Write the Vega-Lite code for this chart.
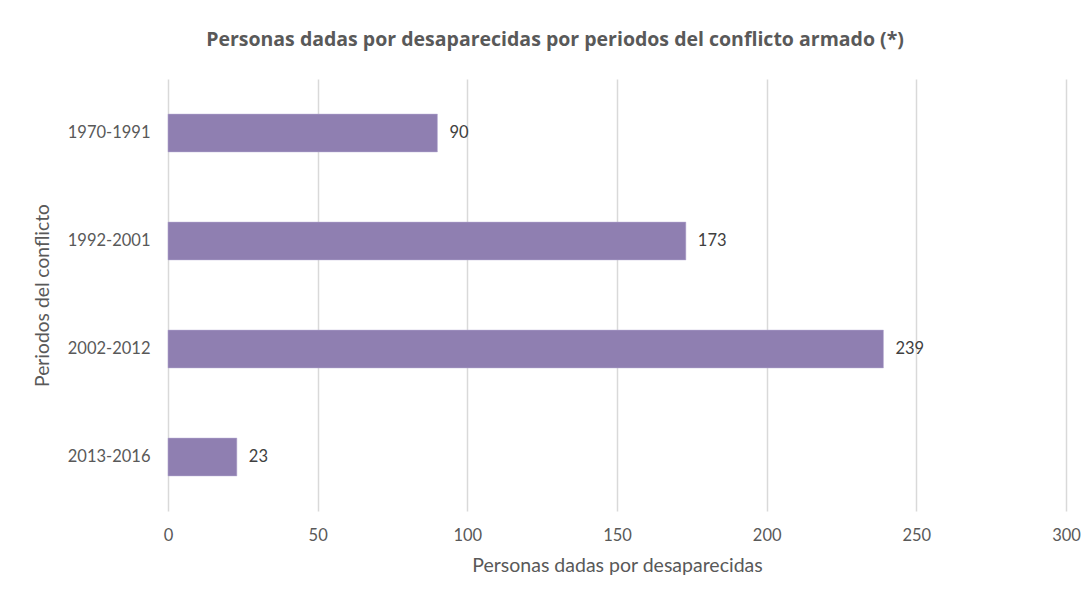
{
  "$schema": "https://vega.github.io/schema/vega-lite/v6.json",
  "autosize": "none",
  "padding": {"left": 168, "top": 79, "right": 25, "bottom": 89},
  "width": 898,
  "height": 432,
  "background": "white",
  "config": {
    "font": "Lato",
    "view": {"stroke": null}
  },
  "title": {
    "text": "Personas dadas por desaparecidas por periodos del conflicto armado (*)",
    "font": "Open Sans",
    "fontSize": 19.5,
    "fontWeight": "bold",
    "color": "#595959",
    "anchor": "middle",
    "dx": -62,
    "offset": 29
  },
  "data": {
    "values": [
      {"periodo": "1970-1991", "personas": 90},
      {"periodo": "1992-2001", "personas": 173},
      {"periodo": "2002-2012", "personas": 239},
      {"periodo": "2013-2016", "personas": 23}
    ]
  },
  "encoding": {
    "y": {
      "field": "periodo",
      "type": "nominal",
      "sort": null,
      "title": "Periodos del conflicto",
      "scale": {"paddingInner": 0.65, "paddingOuter": 0.325},
      "axis": {
        "domain": false,
        "ticks": false,
        "labelPadding": 18,
        "labelFontSize": 16.5,
        "labelColor": "#595959",
        "titleFontSize": 19.3,
        "titleFontWeight": "normal",
        "titleColor": "#595959",
        "titleX": -126,
        "titleY": 216,
        "titleBaseline": "middle"
      }
    },
    "x": {
      "field": "personas",
      "type": "quantitative",
      "title": "Personas dadas por desaparecidas",
      "scale": {"domain": [0, 300], "nice": false},
      "axis": {
        "values": [0, 50, 100, 150, 200, 250, 300],
        "domain": false,
        "ticks": false,
        "grid": true,
        "gridColor": "#d9d9d9",
        "gridWidth": 1.5,
        "labelFlush": false,
        "labelPadding": 16,
        "labelFontSize": 16.5,
        "labelColor": "#595959",
        "titleFontSize": 19.5,
        "titleFontWeight": "normal",
        "titleColor": "#595959",
        "titlePadding": 13
      }
    }
  },
  "layer": [
    {
      "mark": {"type": "bar", "color": "#8f7fb1", "stroke": "#b5a9d0", "strokeWidth": 0.5}
    },
    {
      "mark": {"type": "text", "align": "left", "baseline": "middle", "dx": 12, "fontSize": 16.5, "color": "#404040"},
      "encoding": {"text": {"field": "personas", "type": "quantitative"}}
    }
  ]
}
